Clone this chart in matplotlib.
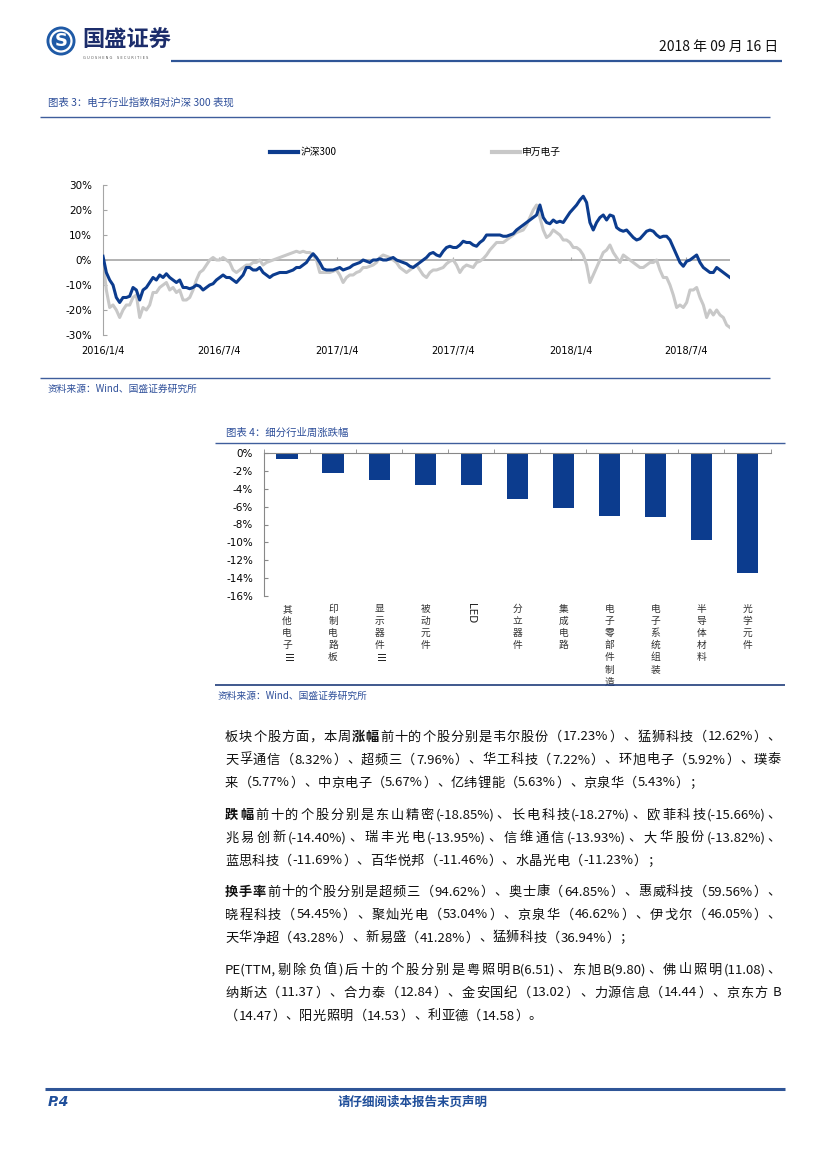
import re
import matplotlib
matplotlib.use("Agg")
import matplotlib.pyplot as plt
import matplotlib.transforms as mtransforms
from matplotlib.lines import Line2D
from matplotlib.patches import Ellipse
import pandas as pd

plt.rcParams["font.family"] = ["Noto Sans CJK SC", "DejaVu Sans"]
plt.rcParams["axes.unicode_minus"] = False

# ---------------- data: chart 1 (relative performance, %) ----------------
hs300_rel_a = [1.5, -5, -8, -10, -15, -17, -15, -15, -14.5, -11,
               -12, -16, -12, -11, -9, -7, -8, -6, -7, -5.5,
               -7, -8, -9, -8, -11, -11, -11.5, -11, -10, -10.5,
               -12, -11, -10, -9.5, -8, -7, -6, -7, -7, -8,
               -9, -7.5, -6, -3, -3, -4, -4, -3, -5, -6,
               -7, -6, -5.5, -5, -5, -5, -4.5, -4, -3, -3,
               -2, -1, 1, 2.5, 1, -1, -3.5, -4, -4, -4,
               -3.5, -3, -4, -3.5, -3, -2, -1.5, -1, 0, -0.5,
               -1, 0, 0, 0.5, 0, 0, 0.5, 1, 0, -0.5,
               -1, -1.5, -2.5, -3, -2, -1, 0, 1, 2.5, 3,
               2, 1.5]
hs300_rel_b = [3.5, 5, 5.5, 5, 5, 6, 7.5, 7, 7, 6,
               5.5, 7, 8, 10, 10, 10, 10, 10, 9.5, 9.5,
               10, 10.5, 12, 13, 14, 15, 16, 17, 18, 22,
               17, 15, 14.5, 16, 15, 15.5, 15, 17, 19, 20.5,
               22, 24, 25.5, 23, 15, 12, 15, 17, 18, 16,
               18, 17.5, 13, 12, 11.5, 12, 10.5, 9, 8, 8.5,
               10, 11.5, 12, 11.5, 10, 9, 9.5, 9.5, 8, 5,
               2, -1, -2.5, -0.5, 0, 1, 2, -1, -3, -4,
               -5, -5, -3, -4, -5, -6, -7]
sw_elec_rel_a = [0, -12, -19, -18, -20, -23, -20, -18, -18, -15,
                 -14, -23, -19, -20, -18, -13, -13, -11, -10, -9,
                 -12, -11, -13, -12, -16, -16, -15, -12, -8, -5,
                 -4, -2, 0, 1, 0, 0, 1, 0, -1, -4,
                 -5, -4, -3, -2, -2, -1, -1, 0, -2, -1,
                 -0.5, 0, 0.5, 1, 1.5, 2, 2.5, 3, 3.5, 3,
                 3.5, 3, 3, 2, 0, -5, -5, -5, -5, -4.5,
                 -4, -6, -9, -7, -6, -6, -5, -4.5, -3, -3,
                 -2.5, -2, -1, 1, 2, 1.5, 1, 0, -1, -3,
                 -4, -5, -4, -3, -2, -4, -6, -7, -5, -4,
                 -4, -3.5]
sw_elec_rel_b = [-3, -1.5, -0.5, 0, -2, -5, -3, -2, -2.5, -3,
                 -1, -0.5, 0.5, 2, 4, 5.5, 7, 7, 7, 8,
                 9, 10, 11, 11.5, 12, 14, 17, 20, 22, 17,
                 12, 9, 10, 12, 11, 10, 8, 8, 7, 5,
                 5, 4, 2, -2, -9, -6, -3, 0, 3, 4,
                 6, 3, 1, -1, 2, 1, 0, -1, -2, -3,
                 -3, -2, -1, -1, 0, -4, -7, -7, -10, -14,
                 -19, -18, -19, -17, -12, -12, -11, -15, -18, -23,
                 -20, -22, -20, -22, -23, -26, -27]
series_start = "2016-01-04"
series_end = "2018-09-10"
x1_tick_dates = ["2016-01-04", "2016-07-04", "2017-01-04", "2017-07-04", "2018-01-04", "2018-07-04"]
x1_tick_labels = ["2016/1/4", "2016/7/4", "2017/1/4", "2017/7/4", "2018/1/4", "2018/7/4"]
y1_ticks = [-30, -20, -10, 0, 10, 20, 30]
legend_labels = ["沪深300", "申万电子"]

# ---------------- data: chart 2 (weekly change by sub-sector, %) ----------------
sectors = ["其他电子III", "印制电路板", "显示器件III", "被动元件", "LED", "分立器件",
           "集成电路", "电子零部件制造", "电子系统组装", "半导体材料", "光学元件"]
sector_change = [-0.7, -2.25, -3.05, -3.55, -3.6, -5.15, -6.2, -7.05, -7.2, -9.75, -13.45]
y2_ticks = [0, -2, -4, -6, -8, -10, -12, -14, -16]

# ---------------- text ----------------
paragraphs = [
    ["板块个股方面，本周**涨幅**前十的个股分别是韦尔股份（17.23%）、猛狮科技（12.62%）、",
     "天孚通信（8.32%）、超频三（7.96%）、华工科技（7.22%）、环旭电子（5.92%）、璞泰",
     "来（5.77%）、中京电子（5.67%）、亿纬锂能（5.63%）、京泉华（5.43%）；"],
    ["**跌幅**前十的个股分别是东山精密(-18.85%)、长电科技(-18.27%)、欧菲科技(-15.66%)、",
     "兆易创新(-14.40%)、瑞丰光电(-13.95%)、信维通信(-13.93%)、大华股份(-13.82%)、",
     "蓝思科技（-11.69%）、百华悦邦（-11.46%）、水晶光电（-11.23%）；"],
    ["**换手率**前十的个股分别是超频三（94.62%）、奥士康（64.85%）、惠威科技（59.56%）、",
     "晓程科技（54.45%）、聚灿光电（53.04%）、京泉华（46.62%）、伊戈尔（46.05%）、",
     "天华净超（43.28%）、新易盛（41.28%）、猛狮科技（36.94%）；"],
    ["PE(TTM,剔除负值)后十的个股分别是粤照明B(6.51)、东旭B(9.80)、佛山照明(11.08)、",
     "纳斯达（11.37）、合力泰（12.84）、金安国纪（13.02）、力源信息（14.44）、京东方 B",
     "（14.47）、阳光照明（14.53）、利亚德（14.58）。"],
]

# ---------------- style ----------------
W, H = 827, 1169
BLUE = "#0C3C8E"
GRAY_LINE = "#C8C8C8"
AXIS_GRAY = "#A6A6A6"
TITLE_BLUE = "#2E4F9A"
RULE_BLUE = "#3F5E9C"


def px(x):
    return x / W


def py(y):
    return 1 - y / H


fig = plt.figure(figsize=(W / 100, H / 100), dpi=100)
fig.patch.set_facecolor("white")


def hline(x0, x1, y, color, lw):
    fig.add_artist(Line2D([px(x0), px(x1)], [py(y), py(y)], transform=fig.transFigure,
                          color=color, lw=lw, solid_capstyle="butt"))


# ---------------- header ----------------
fig.add_artist(Ellipse((px(61), py(41)), 29 / W, 29 / H, transform=fig.transFigure,
                       facecolor="#1F5AA6", edgecolor="none"))
fig.add_artist(Ellipse((px(61), py(41)), 21 / W, 21 / H, transform=fig.transFigure,
                       facecolor="none", edgecolor="white", lw=1.6))
fig.text(px(61), py(41), "S", family="DejaVu Sans", fontweight="bold", fontsize=13,
         color="white", ha="center", va="center")
fig.text(px(82), py(40), "国盛证券", fontsize=16, fontweight="bold", color="#1C2D6B",
         ha="left", va="center")
fig.text(px(83), py(58), "G U O S H E N G    S E C U R I T I E S", fontsize=2.6,
         color="#555555", ha="left", va="center", family="DejaVu Sans")
hline(171, 782, 60.5, "#2F5597", 1.6)
fig.text(px(778), py(47), "2018 年 09 月 16 日", fontsize=10, color="#111111",
         ha="right", va="center")

# ---------------- chart 1 ----------------
fig.text(px(48), py(103), "图表 3：电子行业指数相对沪深 300 表现", fontsize=7.5,
         color=TITLE_BLUE, ha="left", va="center")
hline(40, 770, 117, RULE_BLUE, 1.0)

ax1 = fig.add_axes([px(103), py(335), (730 - 103) / W, 150 / H])
dates_a_b = pd.date_range(series_start, series_end, periods=len(hs300_rel_a) + len(hs300_rel_b))
dates_g = pd.date_range(series_start, series_end, periods=len(sw_elec_rel_a) + len(sw_elec_rel_b))
ax1.axhline(0, color=AXIS_GRAY, lw=1.2, zorder=1)
tick_dates = pd.to_datetime(x1_tick_dates)
ax1.vlines(tick_dates[1:], 0, 1.2, color=AXIS_GRAY, lw=0.8, zorder=1)
l_g, = ax1.plot(dates_g, sw_elec_rel_a + sw_elec_rel_b, color=GRAY_LINE, lw=2.2,
                label=legend_labels[1], zorder=2)
l_b, = ax1.plot(dates_a_b, hs300_rel_a + hs300_rel_b, color=BLUE, lw=2.2,
                label=legend_labels[0], zorder=3)
ax1.set_xlim(pd.Timestamp(series_start), pd.Timestamp(series_end))
ax1.set_ylim(-30, 30)
ax1.set_yticks(y1_ticks)
ax1.set_yticklabels([f"{v}%" for v in y1_ticks], family="DejaVu Sans", fontsize=7.5)
ax1.set_xticks(tick_dates)
ax1.set_xticklabels(x1_tick_labels, family="DejaVu Sans", fontsize=7)
ax1.tick_params(axis="x", length=0, pad=8)
ax1.tick_params(axis="y", direction="in", length=3, color=AXIS_GRAY, pad=8)
for s in ["top", "right", "bottom"]:
    ax1.spines[s].set_visible(False)
ax1.spines["left"].set_color(AXIS_GRAY)
ax1.spines["left"].set_linewidth(0.8)
ax1.set_facecolor("none")
ax1.legend(handles=[l_b, Line2D([], [], color=GRAY_LINE, lw=3)], labels=legend_labels,
           loc="center left", bbox_to_anchor=(px(270), py(152)), bbox_transform=fig.transFigure,
           ncol=2, frameon=False, fontsize=7, handlelength=2.9, handletextpad=0.2,
           columnspacing=16.0, borderpad=0, borderaxespad=0)
for line in ax1.get_legend().get_lines():
    line.set_linewidth(3)

hline(40, 770, 377.5, RULE_BLUE, 1.0)
fig.text(px(48), py(389), "资料来源：Wind、国盛证券研究所", fontsize=7, color=TITLE_BLUE,
         ha="left", va="center")

# ---------------- chart 2 ----------------
fig.text(px(226), py(433), "图表 4：细分行业周涨跌幅", fontsize=7.5, color=TITLE_BLUE,
         ha="left", va="center")
hline(215, 785, 443, RULE_BLUE, 1.0)

ax2 = fig.add_axes([px(264), py(596), (770.5 - 264) / W, (596 - 453) / H])
xpos = list(range(len(sectors)))
ax2.bar(xpos, sector_change, width=0.46, color=BLUE, zorder=2)
ax2.set_xlim(-0.5, len(sectors) - 0.5)
ax2.set_ylim(-16, 0)
ax2.set_yticks(y2_ticks)
ax2.set_yticklabels([f"{v}%" for v in y2_ticks], family="DejaVu Sans", fontsize=7.5)
ax2.set_xticks([])
ax2.set_xticks([i - 0.5 for i in range(len(sectors) + 1)], minor=True)
ax2.tick_params(axis="x", which="minor", top=True, bottom=False, direction="out",
                length=3, color="#888888", labelbottom=False)
ax2.tick_params(axis="y", direction="in", length=3, color="#888888", pad=8)
for s in ["bottom", "right"]:
    ax2.spines[s].set_visible(False)
for s in ["top", "left"]:
    ax2.spines[s].set_color("#888888")
    ax2.spines[s].set_linewidth(0.8)
ax2.set_facecolor("none")

base = mtransforms.blended_transform_factory(ax2.transData, ax2.transAxes)
for i, name in enumerate(sectors):
    parts = re.findall(r"[A-Za-z]+|.", name)
    for k, ch in enumerate(parts):
        tr = mtransforms.offset_copy(base, fig=fig, y=-(13 + 12.1 * k), units="dots")
        if ch.isascii():
            if len(parts) == 1:
                tr0 = mtransforms.offset_copy(base, fig=fig, y=-7, units="dots")
                ax2.text(i, 0, ch, transform=tr0, rotation=270, ha="center", va="top",
                         fontsize=7.5, family="DejaVu Sans", color="#222222")
            else:
                ax2.text(i, 0, ch, transform=tr, rotation=270, ha="center", va="center",
                         fontsize=7.5, family="DejaVu Sans", color="#222222")
        else:
            ax2.text(i, 0, ch, transform=tr, ha="center", va="center", fontsize=7,
                     color="#333333")

hline(215, 785, 685, "#1F3C7A", 1.2)
fig.text(px(218), py(696), "资料来源：Wind、国盛证券研究所", fontsize=7, color=TITLE_BLUE,
         ha="left", va="center")

# ---------------- body text (justified) ----------------
renderer = fig.canvas.get_renderer()
TEXT_SIZE = 9.5


def tokenize(line):
    toks = []
    for idx, part in enumerate(line.split("**")):
        bold = idx % 2 == 1
        for m in re.finditer(r"[A-Za-z0-9.%()\-,]+|.", part):
            toks.append((m.group(0), bold))
    return toks


def draw_line(line, x0, x1, y, justify):
    toks = tokenize(line)
    items = []
    for s, b in toks:
        if s == " ":
            items.append((None, 3.0))
            continue
        t = fig.text(0, py(y), s, fontsize=TEXT_SIZE, fontweight="bold" if b else "normal",
                     color="#111111", ha="left", va="center")
        items.append((t, t.get_window_extent(renderer).width))
    total = sum(w for _, w in items)
    gap = (x1 - x0 - total) / (len(items) - 1) if justify and len(items) > 1 else 0.3
    x = x0
    for t, w in items:
        if t is not None:
            t.set_x(px(x))
        x += w + gap


para_top = [737, 815, 892, 970]
for top, lines in zip(para_top, paragraphs):
    for j, ln in enumerate(lines):
        draw_line(ln, 225, 781, top + 23 * j, justify=(j < len(lines) - 1))

# ---------------- footer ----------------
hline(45, 785, 1089, "#2F5597", 2.2)
fig.text(px(48), py(1102), "P.4", family="DejaVu Sans", fontweight="bold", style="italic",
         fontsize=10, color="#1F4E9A", ha="left", va="center")
fig.text(px(413), py(1102), "请仔细阅读本报告末页声明", fontweight="bold", fontsize=9,
         color="#1F4E9A", ha="center", va="center")

fig.savefig("out.png", dpi=100, facecolor="white")
